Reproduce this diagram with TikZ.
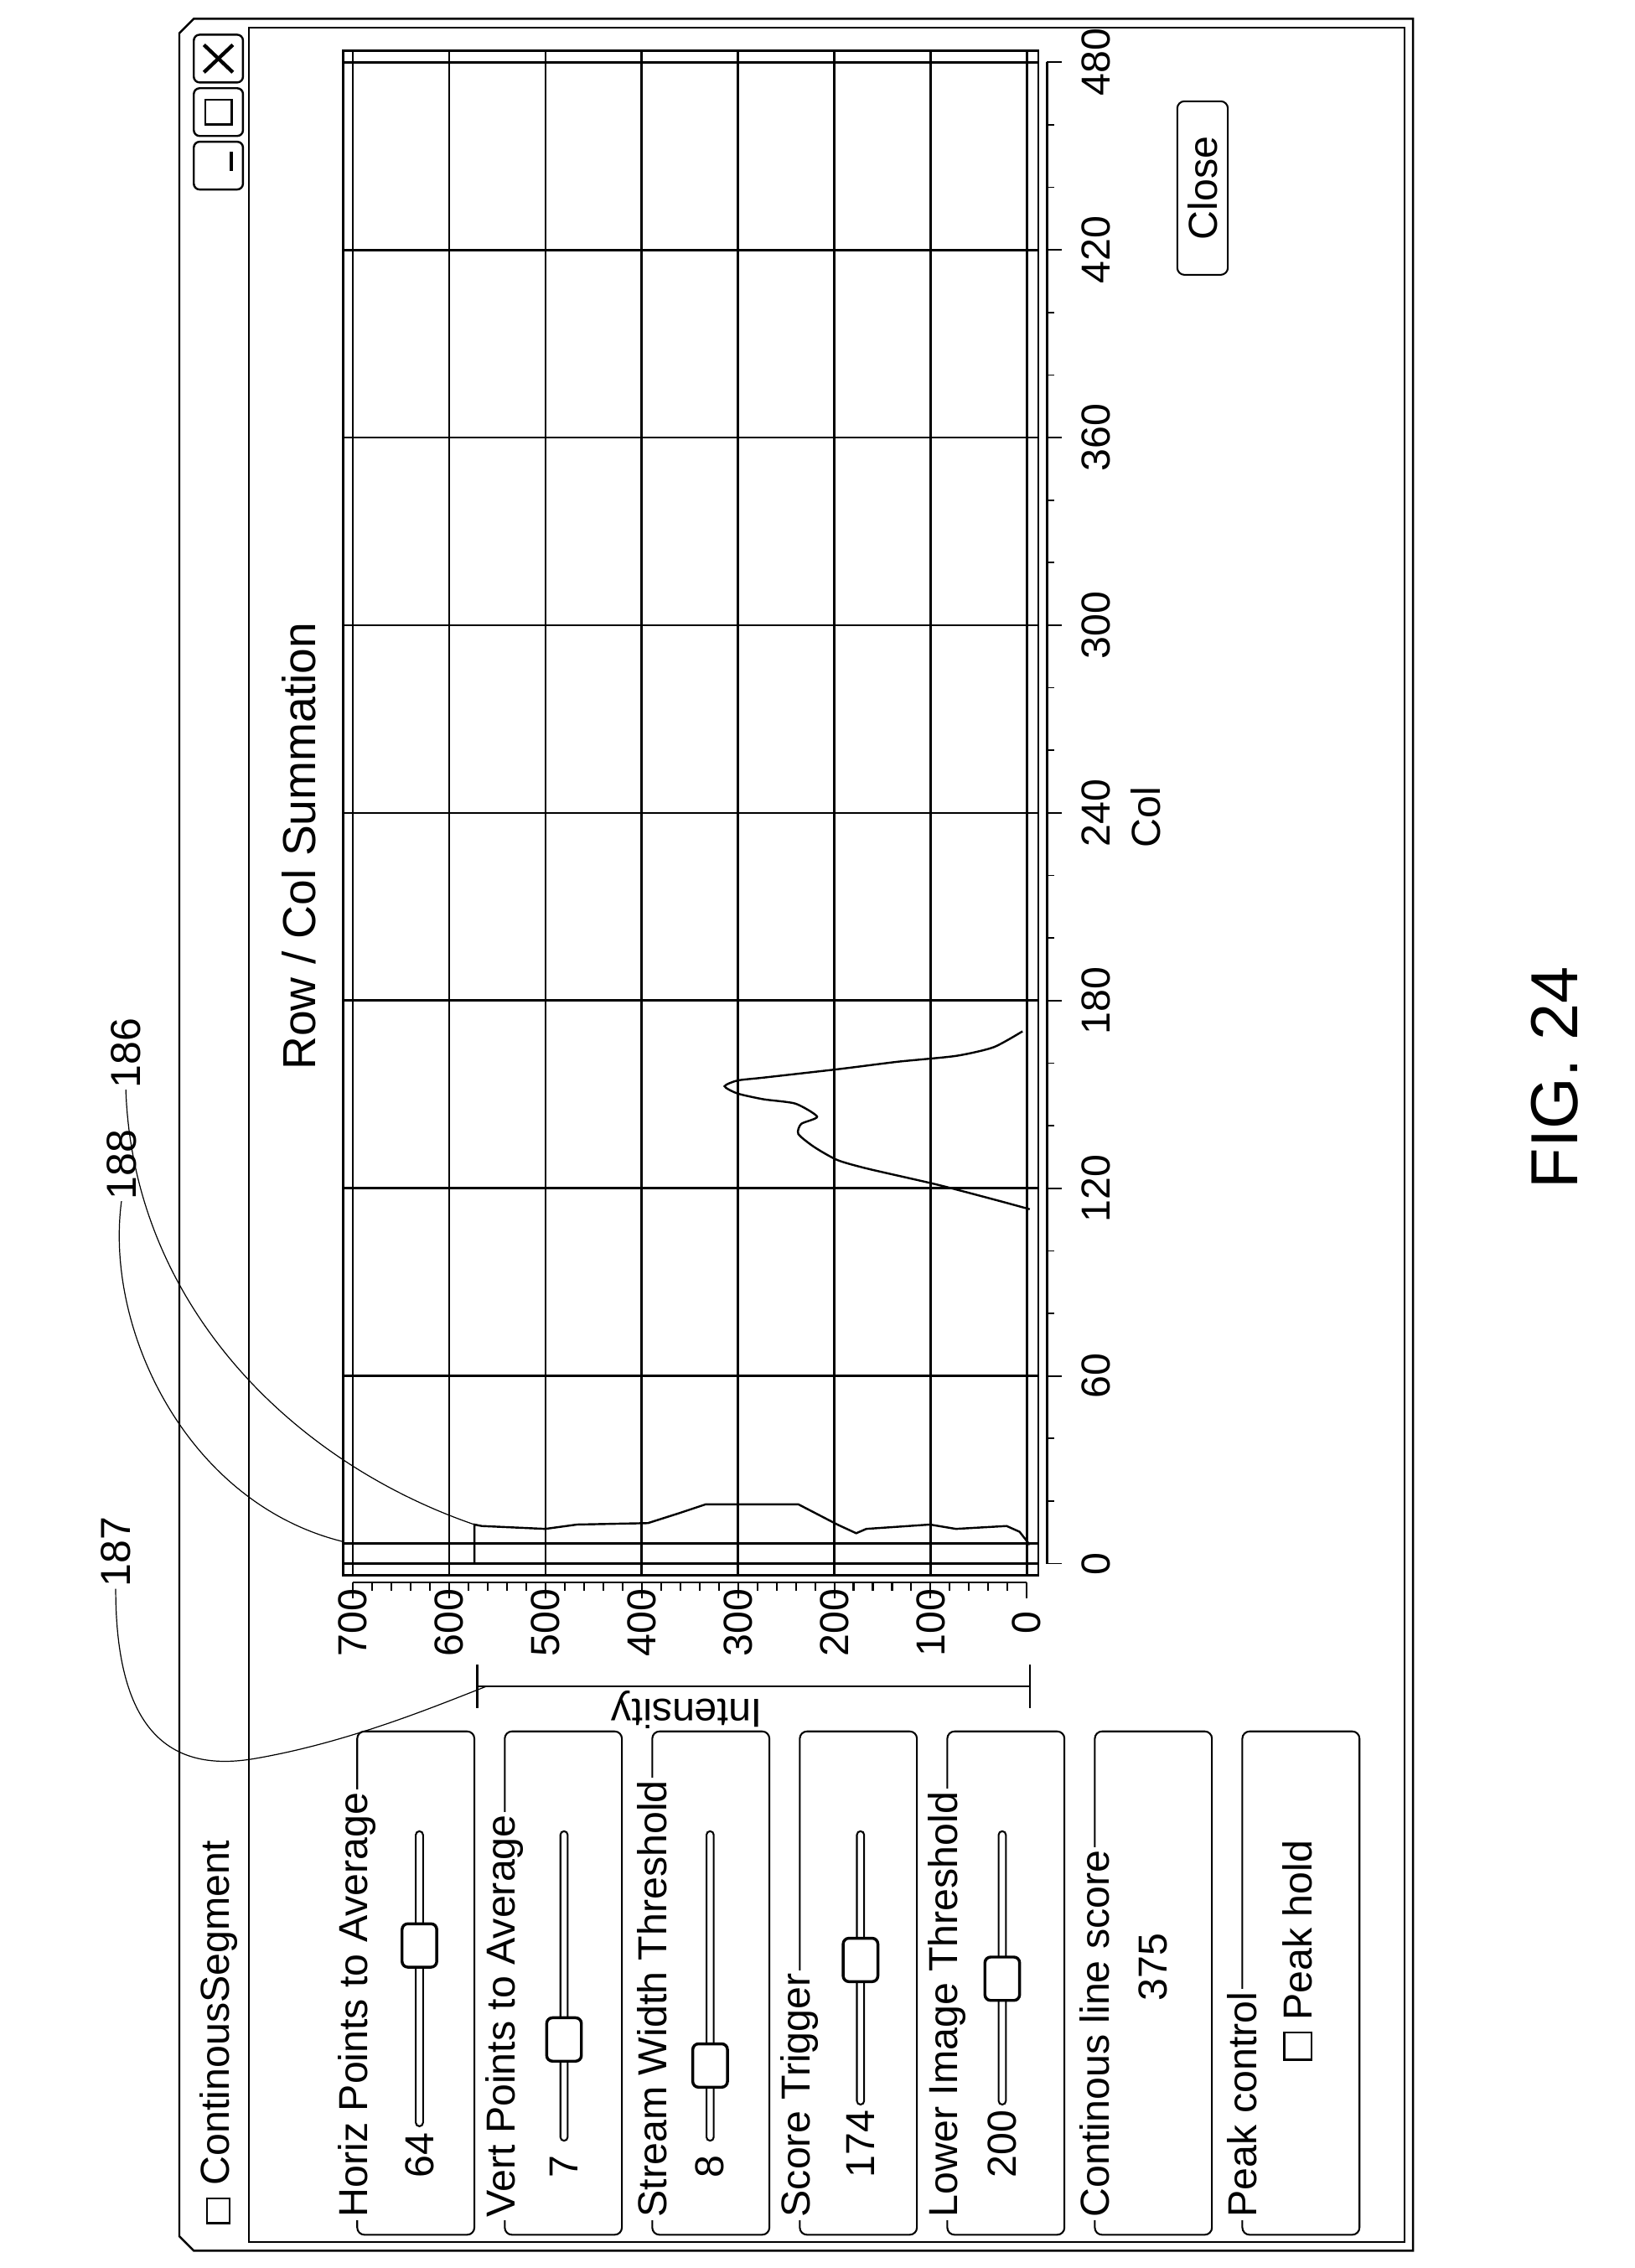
\documentclass[tikz,border=0pt]{standalone}
\usepackage{fontspec}
\setmainfont{Liberation Sans}
\usetikzlibrary{positioning}
\newcommand{\bigfs}{\fontsize{28}{30}\selectfont}
\newcommand{\smlfs}{\fontsize{29}{31}\selectfont}
\tikzset{
  win/.style={draw, line width=1.4pt},
  grp/.style={draw, line width=1.2pt, rounded corners=5pt},
  grplabel/.style={rotate=90, anchor=west, fill=white, inner sep=2pt, font=\bigfs},
  vtext/.style={rotate=90, font=\bigfs, inner sep=1pt},
  track/.style={draw, line width=1.2pt, rounded corners=2.5pt},
  thumb/.style={draw, line width=2pt, rounded corners=4pt, fill=white},
  gridl/.style={line width=1.6pt},
  leader/.style={line width=0.7pt},
  ref/.style={rotate=90, font=\smlfs, inner sep=1pt}
}
\begin{document}
\begin{tikzpicture}[x=1pt, y=-1pt]
\useasboundingbox (0,0) rectangle (1130,1568);
% window frame
\draw[win] (134,13) -- (977,13) -- (977,1556) -- (134,1556) -- (124,1546) -- (124,23) -- cycle;
\draw[win] (172,19) -- (971,19) -- (971,1550) -- (172,1550) -- cycle;
\foreach \yy/\nm in {24/xbtn, 61/maxbtn, 98/minbtn}
  \draw[win, rounded corners=4pt] (134,\yy) rectangle (168,\yy+33);
\draw[line width=2.5pt] (141,31) -- (161,50) (141,50) -- (161,31);
\draw[line width=1.6pt] (142,69) rectangle (160,86);
\draw[line width=2.5pt] (160,105) -- (160,118);
\draw[line width=1.2pt] (143,1520) rectangle (159,1537);
\node[vtext, anchor=west] (title) at (151,1512) {ContinousSegment};
% group boxes
\foreach \xx/\lbl [count=\i] in {247/Horiz Points to Average, 349/Vert Points to Average, 451/Stream Width Threshold, 553/Score Trigger, 655/Lower Image Threshold, 757/Continous line score, 859/Peak control}{
  \draw[grp] (\xx,1197) rectangle (\xx+81,1545);
  \node[grplabel] (g\i) at (\xx,1535) {\lbl};
}
% sliders
\foreach \xx/\val/\th/\tb [count=\i] in {290/64/1345/1470, 390/7/1410/1480, 491/8/1428/1480, 595/174/1355/1455, 693/200/1368/1455}{
  \draw[track] (\xx-2.5,1266) rectangle (\xx+2.5,\tb);
  \draw[thumb] (\xx-12,\th-15) rectangle (\xx+12,\th+15);
  \node[vtext, anchor=west] (v\i) at (\xx,1507) {\val};
}
\node[vtext] (score) at (797,1360) {375};
\draw[line width=1.2pt] (888,1405) rectangle (907,1424);
\node[vtext, anchor=west] (peak) at (897,1398) {Peak hold};
% plot
\draw[gridl] (237.5,35) rectangle (718,1089);
\foreach \k in {0,...,7}
  \draw[gridl] ({710-\k*66.57},35) -- ({710-\k*66.57},1089);
\foreach \c in {0,...,8}
  \draw[gridl] (237.5,{1081-\c*129.75}) -- (718,{1081-\c*129.75});
\draw[gridl] (237.5,1067) -- (718,1067);
% intensity axis
\draw[line width=1.4pt] (244,1094) -- (710,1094);
\foreach \i in {0,...,35}{
  \pgfmathsetmacro{\tl}{ifthenelse(mod(\i,5)==0,11,6)}
  \draw[line width=1.2pt] ({710-\i*13.314},1094) -- ({710-\i*13.314},1094+\tl);
}
\foreach \k in {0,...,7}{
  \pgfmathtruncatemacro{\lab}{\k*100}
  \node[vtext] (i\k) at ({710-\k*66.57},1122) {\lab};
}
% col axis
\draw[line width=1.4pt] (724,43) -- (724,1081);
\foreach \i in {0,...,24}{
  \pgfmathsetmacro{\tl}{ifthenelse(mod(\i,3)==0,10,5)}
  \draw[line width=1pt] (724,{1081-\i*43.25}) -- (724+\tl,{1081-\i*43.25});
}
\foreach \c in {0,...,8}{
  \pgfmathtruncatemacro{\lab}{\c*60}
  \node[vtext] (c\c) at (758,{1081-\c*129.75}) {\lab};
}
\node[vtext] (coltitle) at (792,565) {Col};
\node[vtext, font=\fontsize{32}{34}\selectfont] (charttitle) at (207,585) {Row / Col Summation};
% intensity bracket
\draw[line width=1.2pt] (330,1166) -- (712,1166) (330,1151) -- (330,1181) (712,1151) -- (712,1181);
\node[rotate=180, font=\bigfs, inner sep=1pt] (inten) at (475,1182) {Intensity};
% traces
\coordinate (t0) at (328,1081);
\draw[line width=1.4pt] (t0) -- (328,1054) -- (333,1055) -- (377,1057) -- (399,1054) -- (448,1053)
  -- (470,1046) -- (488,1040) -- (552,1040) -- (579,1054) -- (592,1060) -- (599,1057) -- (643,1054)
  -- (661,1057) -- (696,1055) -- (705,1059) -- (712,1068);
\draw[line width=1.4pt] plot[smooth, tension=0.4] coordinates {(712,836) (690,830) (648,819) (600,808) (579,802) (563,793)
  (552,784) (554,777) (565,772) (550,763) (528,760) (510,756) (501,751) (510,747) (528,745)
  (581,739) (621,734) (661,730) (687,724) (707,713)};
% reference numerals
\node[ref] (r186) at (87,728) {186};
\node[ref] (r188) at (84,805) {188};
\node[ref] (r187) at (80,1073) {187};
\coordinate (e186) at (328,1054);
\coordinate (e188) at (238,1066);
\coordinate (e187) at (336,1166);
\draw[leader] (r186.west) .. controls (92,900) and (200,1010) .. (e186);
\draw[leader] (r188.west) .. controls (72,920) and (130,1040) .. (e188);
\draw[leader] (r187.west) .. controls (80,1200) and (120,1225) .. (175,1216) .. controls (240,1205) and (300,1180) .. (e187);
% close button
\draw[grp] (814,70) rectangle (849,190);
\node[vtext] (close) at (831.5,130) {Close};
\node[rotate=90, font=\fontsize{46}{48}\selectfont] (fig) at (1075,745) {FIG. 24};
\end{tikzpicture}
\end{document}
